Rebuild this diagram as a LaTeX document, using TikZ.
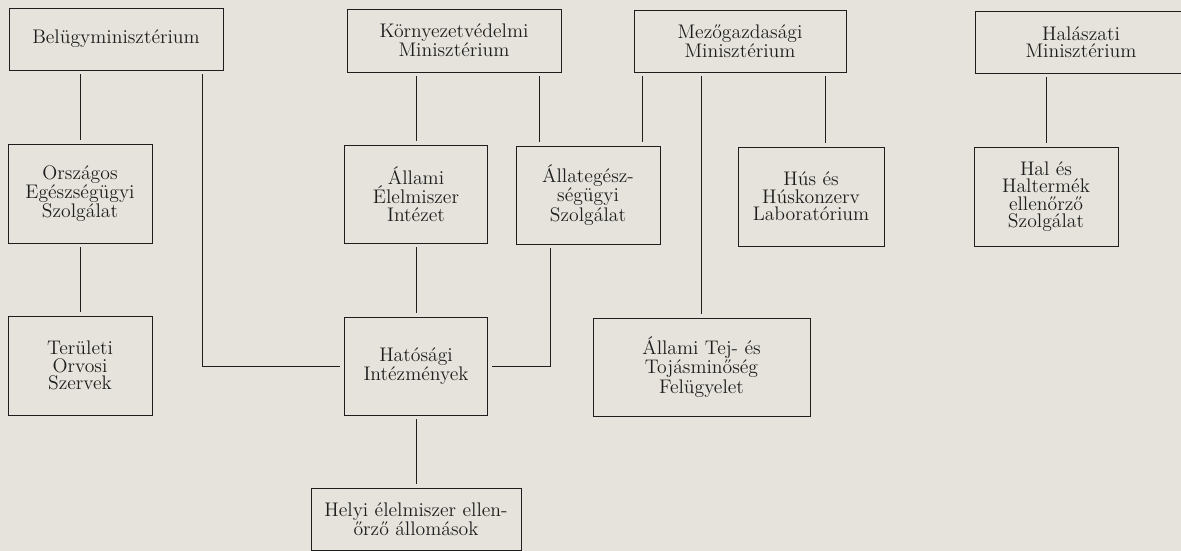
\documentclass[tikz,border=0pt]{standalone}
\usepackage{fontspec}
\usepackage{tikz}
\usetikzlibrary{positioning}
\definecolor{paper}{RGB}{229,227,219}
\definecolor{ink}{RGB}{30,30,30}
\tikzset{font=\fontsize{14}{12.4}\selectfont}
\tikzset{box/.style={draw=ink,line width=0.7pt,text=ink,align=center,inner sep=0pt}}
\tikzset{boxsize/.style 2 args={minimum width=#1*0.025cm,minimum height=#2*0.025cm}}
\tikzset{link/.style={draw=ink,line width=0.7pt,shorten <=0.1cm,shorten >=0.1cm}}

\begin{document}
\begin{tikzpicture}[x=0.025cm,y=-0.025cm]
  \useasboundingbox[fill=paper] (0,0) rectangle (1181,551);

  % ministries
  \node[box,boxsize={214}{62}] (bel) at (116,39) {Belügyminisztérium};
  \node[box,boxsize={214}{63}] (korny) at (454,40.5) {Környezetvédelmi\\Minisztérium};
  \node[box,boxsize={212}{62}] (mezo) at (740,41) {Mezőgazdasági\\Minisztérium};
  \node[box,boxsize={212}{62}] (halmin) at (1081,42) {Halászati\\Minisztérium};

  % services
  \node[box,boxsize={144}{99}] (orsz) at (80,193.5) {Országos\\Egészségügyi\\Szolgálat};
  \node[box,boxsize={143}{98}] (allel) at (416,194) {Állami\\Élelmiszer\\Intézet};
  \node[box,boxsize={144}{98}] (alleg) at (588,195) {Állategész-\\ségügyi\\Szolgálat};
  \node[box,boxsize={146}{99}] (hus) at (811,196.5) {Hús és\\Húskonzerv\\Laboratórium};
  \node[box,boxsize={144}{99}] (halt) at (1046,196.5) {Hal és\\Haltermék\\ellenőrző\\Szolgálat};

  \node[box,boxsize={144}{99}] (teru) at (80,365.5) {Területi\\Orvosi\\Szervek};
  \node[box,boxsize={143}{98}] (hat) at (416,366) {Hatósági\\Intézmények};
  \node[box,boxsize={217}{98}] (tej) at (701.5,367) {Állami Tej- és\\Tojásminőség\\Felügyelet};
  \node[box,boxsize={210}{62}] (helyi) at (416,519) {Helyi élelmiszer ellen-\\őrző állomások};

  \coordinate (belhat) at (202,0);
  \coordinate (kornyalleg) at (539,0);
  \coordinate (mezoalleg) at (642,0);
  \coordinate (mezohus) at (825,0);
  \coordinate (alleghat) at (550,0);

  \draw[link] (bel.south -| orsz.north) -- (orsz.north);
  \draw[link] (orsz) -- (teru);
  \draw[link] (bel.south -| belhat) |- (hat.west);
  \draw[link] (korny.south -| allel.north) -- (allel.north);
  \draw[link] (korny.south -| kornyalleg) -- (alleg.north -| kornyalleg);
  \draw[link] (mezo.south -| mezoalleg) -- (alleg.north -| mezoalleg);
  \draw[link] (mezo.south -| tej.north) -- (tej.north);
  \draw[link] (mezo.south -| mezohus) -- (hus.north -| mezohus);
  \draw[link] (halmin.south -| halt.north) -- (halt.north);
  \draw[link] (allel) -- (hat);
  \draw[link] (alleg.south -| alleghat) |- (hat.east);
  \draw[link] (hat) -- (helyi);
\end{tikzpicture}
\end{document}
